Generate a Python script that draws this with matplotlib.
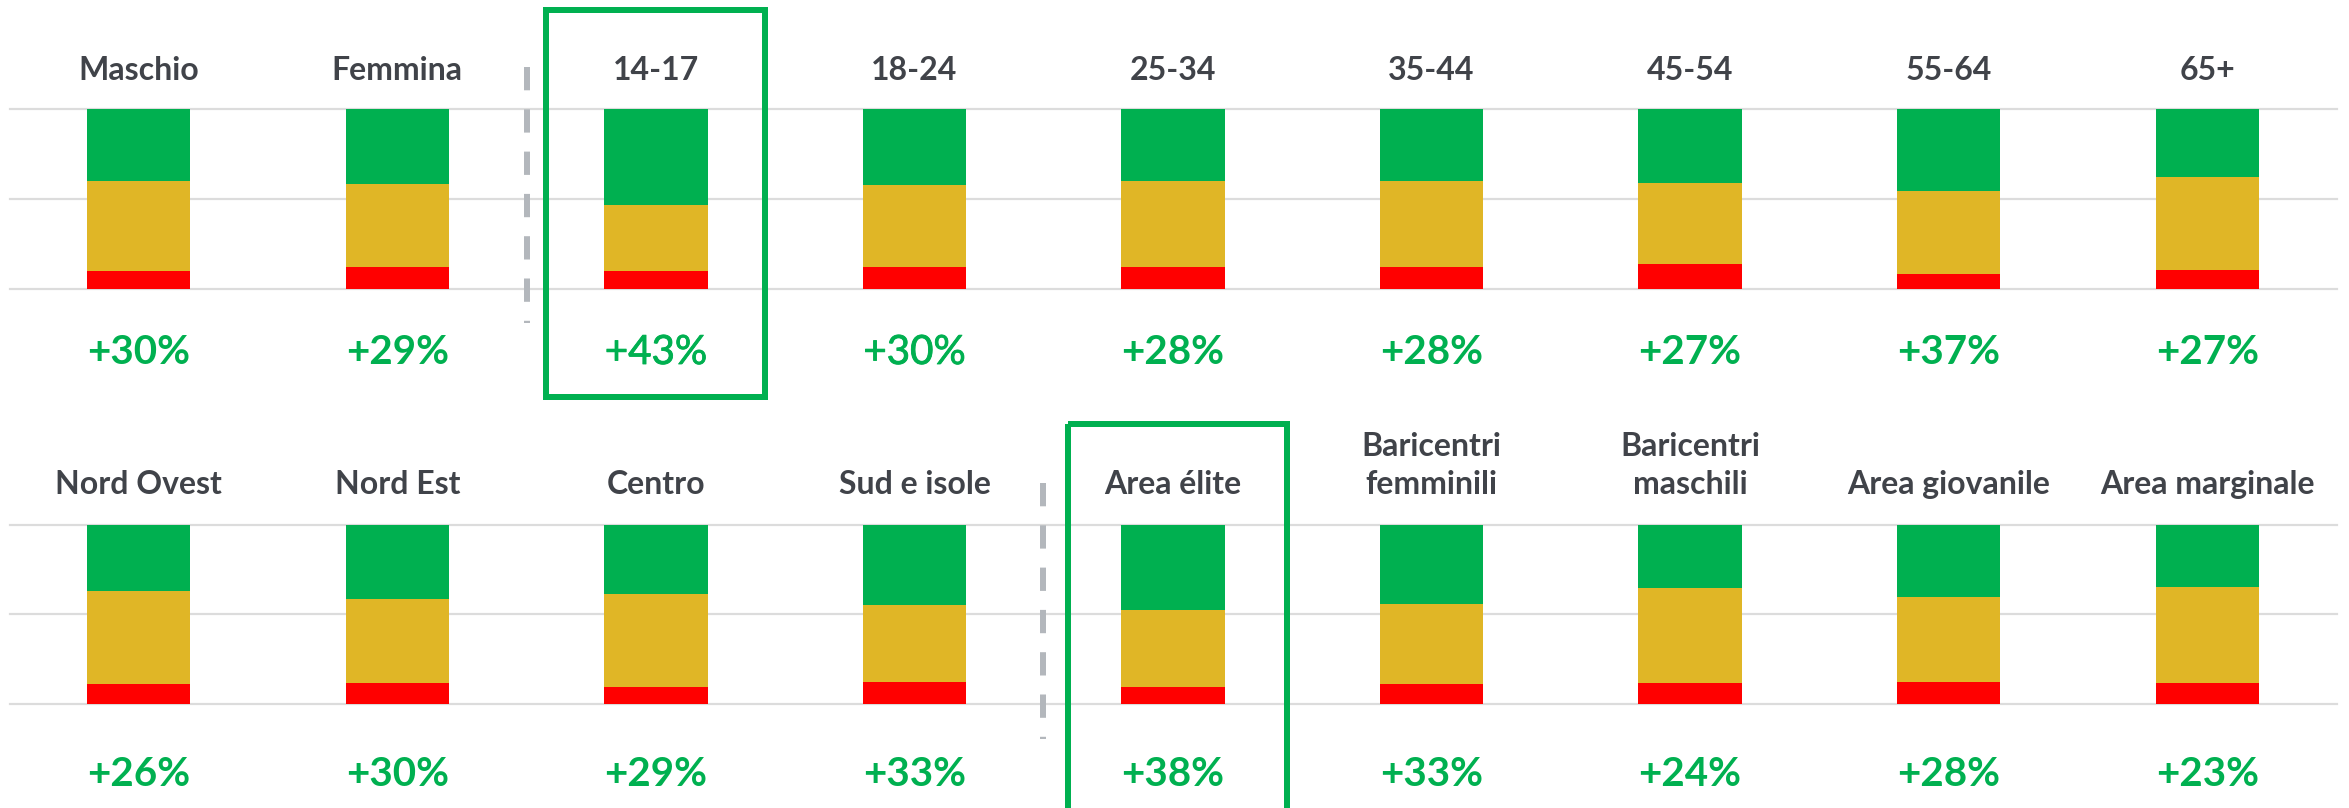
import matplotlib
matplotlib.use("Agg")
import matplotlib.pyplot as plt
import matplotlib.transforms as mtransforms
import matplotlib.patheffects as pe
from matplotlib.lines import Line2D
from matplotlib.patches import Rectangle
import numpy as np

# --- data -------------------------------------------------------------
top_categories = ["Maschio", "Femmina", "14-17", "18-24", "25-34",
                  "35-44", "45-54", "55-64", "65+"]
top_green = [40.0, 41.5, 53.0, 42.0, 40.0, 40.0, 41.0, 45.5, 37.5]
top_red = [10.0, 12.5, 10.0, 12.0, 12.0, 12.0, 14.0, 8.5, 10.5]

bottom_categories = ["Nord Ovest", "Nord Est", "Centro", "Sud e isole",
                     "Area élite", "Baricentri\nfemminili",
                     "Baricentri\nmaschili", "Area giovanile",
                     "Area marginale"]
bottom_green = [37.0, 41.5, 38.5, 45.0, 47.5, 44.0, 35.5, 40.5, 34.5]
bottom_red = [11.0, 11.5, 9.5, 12.0, 9.5, 11.0, 11.5, 12.5, 11.5]

# --- styling ------------------------------------------------------------
W, H, DPI = 2349, 808, 100
GREEN = "#00b050"
YELLOW = "#e0b626"
RED = "#ff0000"
GRID = "#dcdcdc"
TEXT = "#404349"
DASH = "#b3b7bc"
FONT = ["Lato", "DejaVu Sans"]
LIGHT_LABELS = {"14-17", "18-24"}

plt.rcParams["font.family"] = FONT
plt.rcParams["lines.scale_dashes"] = False

fig = plt.figure(figsize=(W / DPI, H / DPI), dpi=DPI)
fig.patch.set_facecolor("white")

# pixel coordinates measured from the top-left corner of the figure
px = mtransforms.Affine2D().scale(1 / W, -1 / H).translate(0, 1) + fig.transFigure
PT = 72 / DPI  # points per pixel


def draw_row(categories, green, red, top_px, bottom_px, name_base_px, value_base_px):
    left_px, right_px = 9.5, 2336.5
    ax = fig.add_axes([left_px / W, 1 - bottom_px / H,
                       (right_px - left_px) / W, (bottom_px - top_px) / H])
    x = np.arange(len(categories))
    g = np.array(green)
    r = np.array(red)
    y = 100 - g - r

    for level in (0, 50, 100):
        ax.axhline(level, color=GRID, lw=2.2 * PT, zorder=1, clip_on=False)
    ax.bar(x, r, width=0.4, color=RED, zorder=2)
    ax.bar(x, y, width=0.4, bottom=r, color=YELLOW, zorder=2)
    ax.bar(x, g, width=0.4, bottom=r + y, color=GREEN, zorder=2)
    ax.set_xlim(-0.5, len(categories) - 0.5)
    ax.set_ylim(0, 100)
    ax.axis("off")

    trans = mtransforms.blended_transform_factory(ax.transData, px)
    for xi, cat, gi, ri in zip(x, categories, g, r):
        lines = cat.split("\n")
        for k, line in enumerate(reversed(lines)):
            fig.text(xi, name_base_px - k * 38, line, transform=trans,
                     ha="center", va="baseline", fontsize=23,
                     fontweight="bold", color=TEXT)
        diff = int(round(gi - ri))
        if cat in LIGHT_LABELS:
            fig.text(xi, value_base_px, f"+{diff}%", transform=trans,
                     ha="center", va="baseline", fontsize=29,
                     fontweight="normal", color=GREEN,
                     path_effects=[pe.withStroke(linewidth=0.6, foreground=GREEN)])
        else:
            fig.text(xi, value_base_px, f"+{diff}%", transform=trans,
                     ha="center", va="baseline", fontsize=29,
                     fontweight="bold", color=GREEN)
    return ax


draw_row(top_categories, top_green, top_red, 109.3, 289.0, 79.5, 364.0)
draw_row(bottom_categories, bottom_green, bottom_red, 524.7, 704.0, 494.0, 786.0)

# dashed separators between groups
for xs, y0, y1 in [(527.3, 66.7, 322.7), (1042.5, 483.0, 739.0)]:
    ln = Line2D([xs, xs], [y0, y1], transform=px, color=DASH,
                lw=6 * PT, dashes=(23.3 * PT, 19 * PT),
                solid_capstyle="butt", dash_capstyle="butt")
    fig.add_artist(ln)

# highlight frames
for x0, y0, x1, y1 in [(546, 10, 765, 397), (1068, 423.7, 1287, 830)]:
    rect = Rectangle((x0, y0), x1 - x0, y1 - y0, transform=px,
                     fill=False, edgecolor=GREEN, lw=6 * PT, clip_on=False)
    fig.add_artist(rect)

fig.savefig("out.png", dpi=DPI, facecolor="white")
